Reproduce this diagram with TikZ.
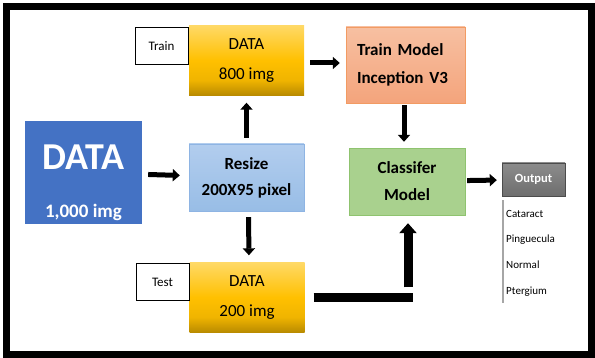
\documentclass[tikz,border=0pt]{standalone}
\usepackage{fontspec}
\setmainfont{Carlito}
\usetikzlibrary{arrows.meta}

\definecolor{bigblue}{HTML}{4472C4}
\definecolor{goldtop}{HTML}{FFD966}
\definecolor{goldmid}{HTML}{FFC000}
\definecolor{goldlow}{HTML}{F0B400}
\definecolor{golddark}{HTML}{B88A00}
\definecolor{resizetop}{HTML}{B2CDEE}
\definecolor{resizebot}{HTML}{98BDE6}
\definecolor{resizeline}{HTML}{8EB4E3}
\definecolor{salmontop}{HTML}{F7C0A2}
\definecolor{salmonbot}{HTML}{F4A47C}
\definecolor{salmonline}{HTML}{F29B63}
\definecolor{greenfill}{HTML}{A9D18E}
\definecolor{greenline}{HTML}{8FC36F}
\definecolor{graytop}{HTML}{8C8C8C}
\definecolor{graybot}{HTML}{6E6E6E}

\pgfdeclareverticalshading{goldshade}{100bp}{color(0bp)=(golddark); color(25bp)=(golddark); color(36bp)=(goldlow); color(50bp)=(goldmid); color(75bp)=(goldtop); color(100bp)=(goldtop)}

\begin{document}
\begin{tikzpicture}[x=1pt,y=-1pt,
    databox/.style={shading=goldshade,minimum width=115pt,minimum height=70pt,align=center,font=\fontsize{17}{30}\selectfont},
    tagbox/.style={draw,line width=1pt,minimum width=53pt,minimum height=37pt,font=\fontsize{13}{15}\selectfont},
    stepbox/.style={align=center,font=\bfseries\fontsize{17}{26}\selectfont},
    classtext/.style={anchor=west,inner sep=0pt,font=\fontsize{11}{13}\selectfont},
    arr/.style={line width=5pt,-{Triangle[length=7pt,width=12pt]}},
    bigarr/.style={line width=9pt,-{Triangle[length=10pt,width=17pt]}}]
         \useasboundingbox (0,0) rectangle (595,358);
         \draw[line width=7pt] (6.5,6.5) rectangle (591,354.5);

         % boxes
         \node[fill=bigblue,text=white,minimum width=117pt,minimum height=101pt,align=center,font=\bfseries](data) at (83.5,172.5)
              {\rule{0pt}{45pt}\fontsize{38}{38}\selectfont DATA\\[34pt]\fontsize{19}{19}\selectfont 1,000 img};
         \node[stepbox,top color=resizetop,bottom color=resizebot,draw=resizeline,minimum width=115pt,minimum height=67pt](resize) at (246.5,177.5) {Resize\\200X95 pixel};
         \node[databox](d800) at (246.5,60.5) {DATA\\800 img};
         \node[tagbox](train) at (161.5,46.5) {Train};
         \node[databox](d200) at (247,297.5) {DATA\\200 img};
         \node[tagbox](test) at (162.5,282) {Test};
         \node[stepbox,top color=salmontop,bottom color=salmonbot,draw=salmonline,align=left,text width=97pt,inner xsep=11pt,minimum height=76pt,font=\bfseries\fontsize{17}{28}\selectfont](model) at (405.5,65) {Train Model\\Inception V3};
         \node[stepbox,fill=greenfill,draw=greenline,minimum width=116pt,minimum height=67pt,font=\bfseries\fontsize{17}{27}\selectfont](classifer) at (407,181.5) {Classifer\\Model};
         \node[top color=graytop,bottom color=graybot,draw=black!70,text=white,minimum width=63pt,minimum height=33pt,font=\bfseries\fontsize{12.5}{14}\selectfont](output) at (533.5,179.5) {Output};

         % classes
         \node[classtext](cataract) at (506,214) {Cataract};
         \node[classtext](pinguecula) at (506,240) {Pinguecula};
         \node[classtext](normal) at (506,265) {Normal};
         \node[classtext](ptergium) at (506,292) {Ptergium};
         \draw[line width=1.5pt,black!35] ([shift={(1,4)}]output.south west) -- ++(0,103);

         % arrows
         \draw[arr,shorten <=6pt,shorten >=9pt](data) -- (resize);
         \draw[arr,shorten <=6pt,shorten >=7pt](resize.north) -- (d800.south);
         \draw[arr,shorten <=6pt,shorten >=7pt]([xshift=2pt]resize.south) -- ([xshift=2pt]d200.north);
         \draw[arr,shorten <=6pt,shorten >=6pt]([yshift=-2.5pt]d800.east) -- ([yshift=-2.5pt]d800.east -| model.west);
         \draw[arr,shorten <=2pt,shorten >=6pt]([xshift=-1.5pt]model.south) -- ([xshift=-1.5pt]model.south |- classifer.north);
         \draw[arr,shorten <=2pt,shorten >=5pt](classifer) -- (output);
         \draw[line width=9pt]([xshift=9pt]d200.east) -- ([xshift=5.5pt]classifer.south |- d200.east);
         \draw[bigarr,shorten >=8pt]([shift={(1pt,10pt)}]classifer.south |- d200.east) -- ([xshift=1pt]classifer.south);
\end{tikzpicture}
\end{document}
